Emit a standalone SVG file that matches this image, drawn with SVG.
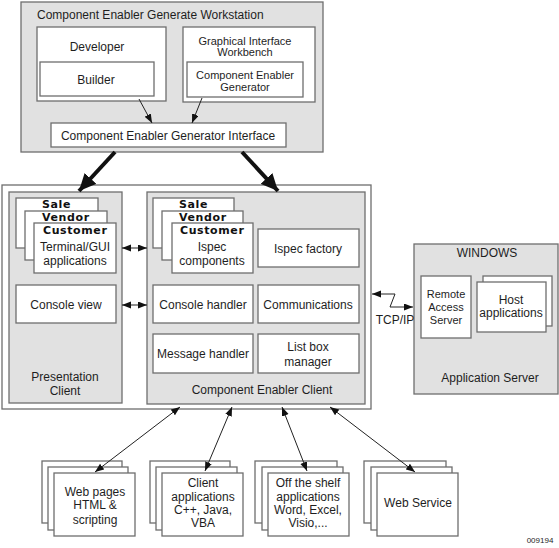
<svg xmlns="http://www.w3.org/2000/svg" width="559" height="548" viewBox="0 0 559 548">
<style>
.g{fill:#e1e1e1;stroke:#6e6e6e;stroke-width:1.3}
.w{fill:#fff;stroke:#6e6e6e;stroke-width:1.3}
text{font-family:"Liberation Sans",Arial,sans-serif;font-size:12px;fill:#1e1e1e}
.c{text-anchor:middle}
.s{font-size:11px}
.b{font-family:"DejaVu Sans","Liberation Sans",sans-serif;font-weight:bold;font-size:11px;letter-spacing:0.6px;fill:#111}
.t{fill:none;stroke:#222;stroke-width:1}
.k{fill:none;stroke:#111;stroke-width:4}
</style>
<defs>
<marker id="a" markerUnits="userSpaceOnUse" markerWidth="10" markerHeight="8" refX="9" refY="3.5" orient="auto-start-reverse"><path d="M0,0 L9,3.5 L0,7 z" fill="#111"/></marker>
<marker id="h" markerUnits="userSpaceOnUse" markerWidth="18" markerHeight="16" refX="17" refY="8" orient="auto"><path d="M0,0 L17,8 L0,16 z" fill="#111"/></marker>
</defs>

<g id="workstation">
<rect class="g" x="21" y="2" width="302" height="150"/>
<text x="37" y="19">Component Enabler Generate Workstation</text>
</g>
<g id="developer">
<rect class="w" x="37" y="27" width="129" height="74"/>
<text class="c" x="97" y="51">Developer</text>
</g>
<g id="builder">
<rect class="w" x="40" y="62" width="114" height="34"/>
<text class="c" x="96" y="84">Builder</text>
</g>
<g id="giw">
<rect class="w" x="183" y="27" width="132" height="75"/>
<text class="c s" x="245" y="45">Graphical Interface</text>
<text class="c s" x="245" y="56">Workbench</text>
</g>
<g id="ceg">
<rect class="w" x="187" y="62" width="116" height="35"/>
<text class="c s" x="245" y="79">Component Enabler</text>
<text class="c s" x="245" y="91">Generator</text>
</g>
<g id="cegi">
<rect class="w" x="51" y="123" width="235" height="24"/>
<text class="c" x="168" y="140">Component Enabler Generator Interface</text>
</g>

<g id="outer">
<rect class="w" x="2" y="185" width="369" height="224"/>
</g>

<g id="presentation">
<rect class="g" x="9" y="192" width="113" height="211"/>
<text class="c" x="65" y="381">Presentation</text>
<text class="c" x="65" y="395">Client</text>
</g>
<g id="terminal">
<rect class="w" x="16" y="198" width="82" height="50"/>
<rect class="w" x="25" y="211" width="82" height="49"/>
<rect class="w" x="34" y="223" width="82" height="50"/>
<text class="b" x="42" y="208">Sale</text>
<text class="b" x="42" y="221">Vendor</text>
<text class="b" x="43" y="234">Customer</text>
<text class="c" x="75" y="251">Terminal/GUI</text>
<text class="c" x="75" y="265">applications</text>
</g>
<g id="consoleview">
<rect class="w" x="16" y="285" width="100" height="38"/>
<text class="c" x="66" y="309">Console view</text>
</g>

<g id="cec">
<rect class="g" x="147" y="192" width="218" height="212"/>
<text class="c" x="262" y="394">Component Enabler Client</text>
</g>
<g id="ispec">
<rect class="w" x="153" y="198" width="81" height="50"/>
<rect class="w" x="162" y="211" width="81" height="49"/>
<rect class="w" x="172" y="223" width="81" height="50"/>
<text class="b" x="179" y="208">Sale</text>
<text class="b" x="179" y="221">Vendor</text>
<text class="b" x="180" y="234">Customer</text>
<text class="c" x="212" y="251">Ispec</text>
<text class="c" x="212" y="265">components</text>
</g>
<g id="ispecfactory">
<rect class="w" x="258" y="229" width="101" height="38"/>
<text class="c" x="308" y="253">Ispec factory</text>
</g>
<g id="consolehandler">
<rect class="w" x="153" y="285" width="100" height="38"/>
<text class="c" x="203" y="309">Console handler</text>
</g>
<g id="communications">
<rect class="w" x="258" y="285" width="101" height="38"/>
<text class="c" x="308" y="309">Communications</text>
</g>
<g id="messagehandler">
<rect class="w" x="153" y="334" width="100" height="39"/>
<text class="c" x="203" y="358">Message handler</text>
</g>
<g id="listbox">
<rect class="w" x="258" y="334" width="101" height="39"/>
<text class="c" x="308" y="351">List box</text>
<text class="c" x="308" y="366">manager</text>
</g>

<g id="appserver">
<rect class="g" x="414" y="244" width="144" height="150"/>
<text class="c" x="487" y="257">WINDOWS</text>
<text class="c" x="490" y="382">Application Server</text>
</g>
<g id="remote">
<rect class="w" x="421" y="276" width="50" height="62"/>
<text class="c s" x="446" y="298">Remote</text>
<text class="c s" x="446" y="311">Access</text>
<text class="c s" x="446" y="324">Server</text>
</g>
<g id="host">
<rect class="w" x="483" y="276" width="69" height="50"/>
<rect class="w" x="477" y="282" width="69" height="50"/>
<text class="c" x="511" y="304">Host</text>
<text class="c" x="511" y="317">applications</text>
</g>

<g id="webpages">
<rect class="w" x="42" y="461" width="80" height="62"/>
<rect class="w" x="48" y="467" width="80" height="63"/>
<rect class="w" x="54" y="473" width="81" height="63"/>
<text class="c" x="95" y="496">Web pages</text>
<text class="c" x="95" y="509">HTML &amp;</text>
<text class="c" x="95" y="524">scripting</text>
</g>
<g id="clientapps">
<rect class="w" x="150" y="461" width="80" height="62"/>
<rect class="w" x="156" y="467" width="81" height="63"/>
<rect class="w" x="162" y="473" width="81" height="63"/>
<text class="c" x="203" y="487">Client</text>
<text class="c" x="203" y="501">applications</text>
<text class="c" x="203" y="514">C++, Java,</text>
<text class="c" x="203" y="527">VBA</text>
</g>
<g id="offshelf">
<rect class="w" x="255" y="461" width="82" height="62"/>
<rect class="w" x="262" y="467" width="81" height="63"/>
<rect class="w" x="268" y="473" width="81" height="63"/>
<text class="c" x="308" y="487">Off the shelf</text>
<text class="c" x="308" y="501">applications</text>
<text class="c" x="308" y="514">Word, Excel,</text>
<text class="c" x="308" y="527">Visio,...</text>
</g>
<g id="webservice">
<rect class="w" x="364" y="461" width="82" height="62"/>
<rect class="w" x="371" y="467" width="81" height="63"/>
<rect class="w" x="377" y="473" width="81" height="63"/>
<text class="c" x="418" y="507">Web Service</text>
</g>

<g id="connectors">
<line class="t" x1="139" y1="99" x2="152" y2="123" marker-end="url(#a)"/>
<line class="t" x1="202" y1="98" x2="192" y2="123" marker-end="url(#a)"/>
<line class="k" x1="115" y1="152" x2="79" y2="191" marker-end="url(#h)"/>
<line class="k" x1="242" y1="152" x2="278" y2="191" marker-end="url(#h)"/>
<line class="t" x1="122" y1="248" x2="147" y2="248" marker-start="url(#a)" marker-end="url(#a)"/>
<line class="t" x1="122" y1="305" x2="147" y2="305" marker-start="url(#a)" marker-end="url(#a)"/>
<polyline class="t" points="372,294 395,294 390,307 413,307" marker-start="url(#a)" marker-end="url(#a)"/>
<line class="t" x1="180" y1="407" x2="95" y2="472" marker-start="url(#a)" marker-end="url(#a)"/>
<line class="t" x1="232" y1="407" x2="205" y2="471" marker-start="url(#a)" marker-end="url(#a)"/>
<line class="t" x1="282" y1="407" x2="307" y2="471" marker-start="url(#a)" marker-end="url(#a)"/>
<line class="t" x1="330" y1="407" x2="415" y2="472" marker-start="url(#a)" marker-end="url(#a)"/>
</g>
<text class="c" x="395" y="324">TCP/IP</text>
<text class="c" x="540" y="543" style="font-size:8px">009194</text>
</svg>
